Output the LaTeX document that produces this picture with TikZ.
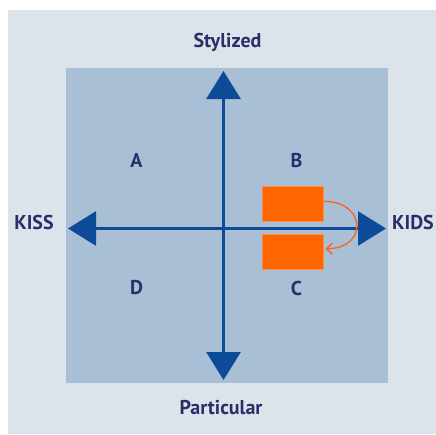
\documentclass[tikz,border=0pt]{standalone}
\usepackage{fontspec}
\setmainfont{PT Sans}
\usepackage{tikz}
\usetikzlibrary{arrows.meta, positioning}
\definecolor{frame}{RGB}{220,227,234}
\definecolor{field}{RGB}{169,191,214}
\definecolor{axis}{RGB}{13,74,152}
\definecolor{ink}{RGB}{42,47,106}
\definecolor{block}{RGB}{255,102,0}
\definecolor{blockedge}{RGB}{255,140,64}
\definecolor{turn}{RGB}{242,106,33}
\tikzset{
    pole/.style={font=\fontsize{20}{24}\selectfont\bfseries, text=ink},
    quadrant/.style={font=\fontsize{20}{24}\selectfont\bfseries, text=ink},
    axisline/.style={axis, line width=3pt, -{Triangle[length=28pt,width=34pt]}},
    block/.style={rectangle, draw=blockedge, line width=1.2pt, fill=block, minimum width=61pt, minimum height=35pt, inner sep=0pt},
    swap/.style={->, draw=turn, line width=1.4pt, >={Straight Barb[length=6pt,width=11pt]}}
}
\begin{document}
\begin{tikzpicture}[x=1pt, y=-1pt]
    \useasboundingbox (0,0) rectangle (436,434);
    % Backgrounds
    \fill[frame] (8,10) rectangle (436,434);
    \fill[field] (66,68) rectangle (388,383);

    % Axes
    \coordinate (origin) at (223.5,228.5);
    \coordinate (top) at (223.5,71);
    \coordinate (bottom) at (223.5,380);
    \coordinate (left) at (68,228.5);
    \coordinate (right) at (386,228.5);
    \draw[axisline] (origin) -- (top);
    \draw[axisline] (origin) -- (bottom);
    \draw[axisline] (origin) -- (left);
    \draw[axisline] (origin) -- (right);

    % Pole labels
    \node[pole] (stylized) at (227.5,42) {Stylized};
    \node[pole] (particular) at (221,408) {Particular};
    \node[pole] (kiss) at (34,222.5) {KISS};
    \node[pole] (kids) at (413,222.5) {KIDS};

    % Quadrants
    \node[quadrant] (qa) at (136.5,160) {A};
    \node[quadrant] (qb) at (296.5,160) {B};
    \node[quadrant] (qc) at (296.5,288) {C};
    \node[quadrant] (qd) at (136.5,288) {D};

    % Blocks
    \node[block] (upper) at (292.8,203.8) {};
    \node[block] (lower) at (292.8,251.7) {};
    \draw[swap] ([yshift=2.5pt]upper.east) to[out=0, in=0, looseness=2.3] ([yshift=3pt, xshift=1.5pt]lower.east);
\end{tikzpicture}
\end{document}
